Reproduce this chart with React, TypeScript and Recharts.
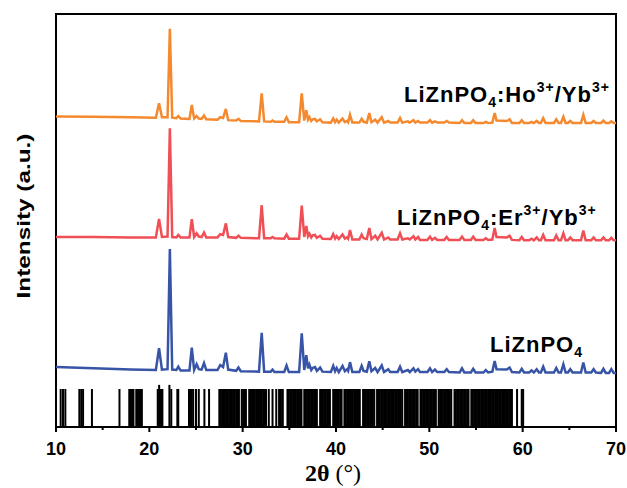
import { ComposedChart, Line, XAxis, YAxis, ReferenceLine, ReferenceArea } from "recharts";

// 2θ grid shared by the three measured patterns
const twoTheta = [
  10.0, 14.0, 18.0, 20.7, 21.04, 21.35, 21.95, 22.2, 22.45, 22.9,
  23.1, 23.35, 24.3, 24.55, 24.8, 25.07, 25.3, 25.6, 25.86, 26.1,
  27.3, 27.6, 27.9, 28.2, 28.45, 29.3, 29.55, 29.8, 31.75, 32.04,
  32.3, 33.0, 33.2, 33.4, 34.45, 34.7, 34.95, 36.05, 36.33, 36.6,
  36.82, 37.0, 37.15, 37.35, 37.5, 37.75, 37.95, 38.3, 38.55, 39.45,
  39.7, 39.9, 40.07, 40.3, 40.7, 40.95, 41.2, 41.3, 41.5, 41.75,
  42.5, 42.75, 42.95, 43.3, 43.57, 43.8, 44.2, 44.45, 44.9, 45.15,
  45.6, 45.8, 46.6, 46.86, 47.1, 47.7, 47.9, 48.3, 48.5, 48.8,
  49.0, 49.8, 50.07, 50.3, 50.6, 50.85, 51.6, 51.86, 52.1, 53.25,
  53.5, 53.75, 54.45, 54.7, 54.95, 55.8, 56.05, 56.3, 56.75, 57.0,
  57.2, 58.3, 58.6, 58.85, 59.65, 59.9, 60.15, 60.7, 60.95, 61.2,
  61.5, 61.75, 61.95, 62.2, 62.45, 63.35, 63.6, 63.85, 64.1, 64.36,
  64.6, 64.85, 65.1, 65.35, 66.25, 66.5, 66.75, 67.35, 67.6, 67.85,
  68.4, 68.65, 68.9, 69.25, 69.5, 69.75, 70.0,
];

// LiZnPO4 (offset intensity)
const liZnPO4 = [
  14.5, 14.2, 13.9, 13.8, 19.1, 13.9, 14.0, 43.1, 13.9, 13.8,
  14.6, 13.7, 13.7, 19.2, 13.8, 15.2, 14.0, 13.9, 15.5, 13.8,
  13.8, 15.0, 14.5, 18.0, 13.9, 13.6, 14.4, 13.5, 13.4, 22.8,
  13.4, 13.4, 13.9, 13.3, 13.3, 14.9, 13.3, 13.3, 22.7, 13.8,
  17.4, 14.2, 15.1, 13.8, 14.3, 14.5, 13.6, 14.4, 13.4, 13.3,
  14.8, 13.5, 14.3, 13.3, 14.8, 13.5, 14.0, 13.6, 15.7, 13.3,
  13.3, 14.8, 13.6, 13.4, 15.9, 13.5, 14.3, 13.3, 14.9, 13.3,
  14.0, 13.3, 13.3, 14.6, 13.3, 13.8, 13.3, 14.2, 13.4, 14.0,
  13.3, 13.3, 14.2, 13.3, 13.9, 13.3, 13.3, 14.0, 13.3, 13.2,
  14.2, 13.2, 13.2, 14.1, 13.2, 13.2, 13.8, 13.2, 13.4, 16.0,
  14.0, 13.9, 14.4, 13.3, 13.2, 14.1, 13.2, 13.2, 13.7, 13.2,
  14.0, 13.2, 13.2, 14.6, 13.2, 13.2, 14.3, 13.2, 13.2, 15.2,
  13.2, 13.2, 14.0, 13.2, 13.2, 15.6, 13.2, 13.2, 14.0, 13.2,
  13.1, 14.1, 13.1, 13.1, 14.0, 13.1, 13.1,
];

// LiZnPO4:Er3+/Yb3+
const erYb = [
  46.0, 46.0, 45.9, 45.9, 50.4, 46.0, 46.1, 72.3, 46.0, 45.9,
  46.5, 45.9, 45.9, 50.3, 46.0, 46.9, 46.1, 46.0, 47.1, 45.9,
  45.9, 46.7, 46.5, 49.3, 46.0, 45.8, 46.3, 45.8, 45.7, 53.7,
  45.7, 45.7, 46.0, 45.7, 45.6, 46.6, 45.6, 45.6, 53.6, 46.0,
  48.7, 46.2, 46.8, 45.9, 46.4, 46.5, 45.8, 46.3, 45.6, 45.5,
  46.7, 45.6, 46.2, 45.5, 46.6, 45.6, 45.9, 45.6, 47.7, 45.4,
  45.4, 46.6, 45.7, 45.5, 48.2, 45.5, 46.3, 45.4, 47.0, 45.4,
  45.9, 45.4, 45.4, 46.9, 45.4, 45.7, 45.4, 46.2, 45.4, 46.0,
  45.3, 45.3, 46.1, 45.3, 45.8, 45.3, 45.3, 46.0, 45.3, 45.3,
  46.1, 45.3, 45.3, 46.1, 45.3, 45.3, 45.7, 45.3, 45.4, 48.2,
  46.0, 45.9, 46.3, 45.3, 45.2, 46.0, 45.2, 45.2, 45.6, 45.2,
  45.9, 45.2, 45.2, 46.5, 45.2, 45.2, 46.4, 45.2, 45.2, 46.9,
  45.2, 45.2, 45.9, 45.2, 45.2, 47.6, 45.2, 45.2, 45.9, 45.2,
  45.2, 45.9, 45.2, 45.2, 45.8, 45.2, 45.2,
];

// LiZnPO4:Ho3+/Yb3+
const hoYb = [
  75.2, 75.1, 75.0, 74.9, 78.4, 75.0, 75.0, 96.4, 74.9, 74.8,
  75.3, 74.7, 74.6, 78.0, 74.7, 75.3, 74.7, 74.6, 75.4, 74.5,
  74.4, 75.0, 74.8, 77.0, 74.3, 74.2, 74.6, 74.1, 74.0, 80.8,
  74.0, 73.9, 74.2, 73.9, 73.9, 75.0, 73.8, 73.8, 80.8, 74.2,
  76.7, 74.4, 75.0, 74.1, 74.5, 74.6, 74.0, 74.5, 73.8, 73.7,
  74.7, 73.8, 74.4, 73.7, 74.7, 73.8, 74.1, 73.8, 75.6, 73.7,
  73.7, 74.6, 73.9, 73.7, 76.0, 73.8, 74.4, 73.7, 75.0, 73.7,
  74.1, 73.7, 73.7, 74.8, 73.7, 74.0, 73.7, 74.3, 73.7, 74.1,
  73.7, 73.7, 74.3, 73.7, 74.0, 73.7, 73.7, 74.1, 73.7, 73.6,
  74.3, 73.6, 73.6, 74.3, 73.6, 73.6, 73.9, 73.6, 73.7, 76.0,
  74.2, 74.1, 74.5, 73.6, 73.6, 74.3, 73.6, 73.6, 73.9, 73.6,
  74.1, 73.6, 73.6, 74.8, 73.6, 73.6, 74.5, 73.6, 73.6, 75.1,
  73.6, 73.6, 74.1, 73.6, 73.6, 75.6, 73.6, 73.6, 74.1, 73.6,
  73.6, 74.2, 73.6, 73.6, 74.0, 73.6, 73.6,
];

// reference card lines (2θ)
const refTwoTheta = [
  10.5, 10.75, 11.0, 12.5, 12.7, 12.9, 13.85, 16.8,
  17.85, 17.95, 18.05, 18.15, 18.3, 18.6, 18.7, 18.85, 19.0, 19.2,
  20.9, 21.05, 21.25, 21.4, 22.15, 22.35, 23.0, 23.1,
  24.25, 24.4, 24.55, 24.7, 25.0, 25.3, 25.9, 26.4,
  27.5, 27.65, 27.8, 27.95, 28.1, 28.25, 28.4, 28.55, 28.7, 28.85, 29.0, 29.15, 29.3, 29.45, 29.6,
  29.9, 30.05, 30.2, 30.35,
  30.7, 30.85, 31.0, 31.15, 31.3, 31.45, 31.6, 31.75, 31.9, 32.05, 32.2, 32.35, 32.5,
  32.8, 33.2, 33.6, 33.9, 34.1, 34.3,
  34.8, 34.95, 35.1, 35.25, 35.4, 35.55, 35.7, 35.85, 36.0, 36.15, 36.3,
  36.6, 36.75, 36.9, 37.05, 37.2, 37.35, 37.5, 37.65, 37.8, 37.95,
  38.3, 38.45, 38.6, 38.75, 38.9, 39.05, 39.2, 39.35,
  39.7, 39.85, 40.0, 40.15, 40.3, 40.45, 40.6,
  40.9, 41.05, 41.2, 41.35, 41.5, 41.65, 41.8, 41.95, 42.1, 42.25, 42.4, 42.55,
  42.9, 43.05, 43.2, 43.35, 43.5, 43.65, 43.8, 43.95, 44.1,
  44.4, 44.55, 44.7, 44.85, 45.0, 45.15, 45.3, 45.45, 45.6, 45.75, 45.9, 46.05,
  46.2, 46.35, 46.5, 46.65, 46.8, 46.95, 47.1,
  47.4, 47.55, 47.7, 47.85, 48.0, 48.15, 48.3, 48.45, 48.6, 48.75,
  49.05, 49.2, 49.35, 49.5, 49.65, 49.8, 49.95, 50.1, 50.25, 50.4, 50.55, 50.7,
  51.0, 51.15, 51.3, 51.45, 51.6, 51.75, 51.9, 52.05, 52.2, 52.35,
  52.7, 52.85, 53.0, 53.15, 53.3, 53.45, 53.6, 53.75, 53.9, 54.05, 54.2,
  54.5, 54.65, 54.8, 54.95, 55.1, 55.25, 55.4, 55.55, 55.7, 55.85, 56.0, 56.15,
  56.3, 56.45, 56.6, 56.75, 56.9, 57.05, 57.2, 57.35, 57.5, 57.65, 57.8, 57.95,
  58.1, 58.25, 58.4, 58.55, 58.7, 58.85,
  59.4, 59.9, 60.05,
];
const refStrong = [21.05, 22.15];
const refHeight = 9.2;
const refStrongHeight = 10.2;

const xTicks = [10, 15, 20, 25, 30, 35, 40, 45, 50, 55, 60, 65, 70];

const rows = twoTheta.map((t, i) => ({
  t,
  blue: liZnPO4[i],
  red: erYb[i],
  orange: hoYb[i],
}));

const TICK_SIZE = 5;
const TICK_MARGIN = 10;

function XTick(props: any) {
  const { x, y, payload } = props;
  const v = payload.value;
  const axisY = y - TICK_SIZE - TICK_MARGIN;
  const major = v % 10 === 0;
  return (
    <g>
      <line x1={x} x2={x} y1={axisY} y2={axisY + (major ? 5 : 3)} stroke="#000" strokeWidth={2} />
      {major && (
        <text x={x} y={y} dy="0.71em" textAnchor="middle" fontSize={18} fontWeight="bold" fill="#000">
          {v}
        </text>
      )}
    </g>
  );
}

const sans = "'Liberation Sans', Arial, sans-serif";

export default function App() {
  return (
    <div
      style={{
        position: "absolute",
        left: 0,
        top: 0,
        width: 627,
        height: 488,
        background: "#fff",
        fontFamily: sans,
      }}
    >
      <ComposedChart width={627} height={488} data={rows} margin={{ top: 14, right: 11, left: 56, bottom: 0 }}>
        <XAxis
          xAxisId="main"
          type="number"
          dataKey="t"
          domain={[10, 70]}
          ticks={xTicks}
          interval={0}
          height={61}
          tickSize={TICK_SIZE}
          tickMargin={TICK_MARGIN}
          tickLine={false}
          axisLine={{ stroke: "#000", strokeWidth: 2 }}
          tick={(p: any) => <XTick {...p} />}
          allowDataOverflow
        />
        <YAxis yAxisId="left" type="number" domain={[0, 100]} width={0} tick={false} tickLine={false} axisLine={false} allowDataOverflow />
        {refTwoTheta.map((t) => (
          <ReferenceLine
            key={t}
            xAxisId="main"
            yAxisId="left"
            segment={[
              { x: t, y: 0 },
              { x: t, y: refStrong.includes(t) ? refStrongHeight : refHeight },
            ]}
            stroke="#000"
            strokeWidth={2}
          />
        ))}
        <Line xAxisId="main" yAxisId="left" type="linear" dataKey="blue" stroke="#3854a6" strokeWidth={2.5} dot={false} isAnimationActive={false} />
        <Line xAxisId="main" yAxisId="left" type="linear" dataKey="red" stroke="#ef4f55" strokeWidth={2.5} dot={false} isAnimationActive={false} />
        <Line xAxisId="main" yAxisId="left" type="linear" dataKey="orange" stroke="#f5892f" strokeWidth={2.5} dot={false} isAnimationActive={false} />
        {/* plot frame */}
        <ReferenceArea
          xAxisId="main"
          yAxisId="left"
          x1={10}
          x2={70}
          y1={0}
          y2={100}
          fill="none"
          fillOpacity={0}
          stroke="#000"
          strokeWidth={2}
          strokeOpacity={1}
          ifOverflow="visible"
        />
      </ComposedChart>
      <svg
        width={627}
        height={488}
        style={{ position: "absolute", left: 0, top: 0, pointerEvents: "none" }}
        fontFamily={sans}
      >
        <text x={404} y={102} fontSize={22} fontWeight="bold" letterSpacing={1} fill="#000">
          LiZnPO<tspan dy={5} fontSize={14}>4</tspan>
          <tspan dy={-5}>:Ho</tspan>
          <tspan dy={-10} fontSize={14}>3+</tspan>
          <tspan dy={10}>/Yb</tspan>
          <tspan dy={-10} fontSize={14}>3+</tspan>
        </text>
        <text x={397} y={225} fontSize={22} fontWeight="bold" letterSpacing={1} fill="#000">
          LiZnPO<tspan dy={5} fontSize={14}>4</tspan>
          <tspan dy={-5}>:Er</tspan>
          <tspan dy={-10} fontSize={14}>3+</tspan>
          <tspan dy={10}>/Yb</tspan>
          <tspan dy={-10} fontSize={14}>3+</tspan>
        </text>
        <text x={490} y={352} fontSize={22} fontWeight="bold" letterSpacing={1} fill="#000">
          LiZnPO<tspan dy={5} fontSize={14}>4</tspan>
        </text>
        <text
          transform="translate(23,216) rotate(-90) scale(1.28,1)"
          textAnchor="middle"
          dominantBaseline="central"
          fontSize={19}
          fontWeight="bold"
          fill="#000"
        >
          Intensity (a.u.)
        </text>
        <text x={333} y={481} textAnchor="middle" fontFamily="'Liberation Serif', 'Times New Roman', serif" fontSize={24} fill="#000">
          <tspan fontWeight="bold">2θ</tspan> (°)
        </text>
      </svg>
    </div>
  );
}
